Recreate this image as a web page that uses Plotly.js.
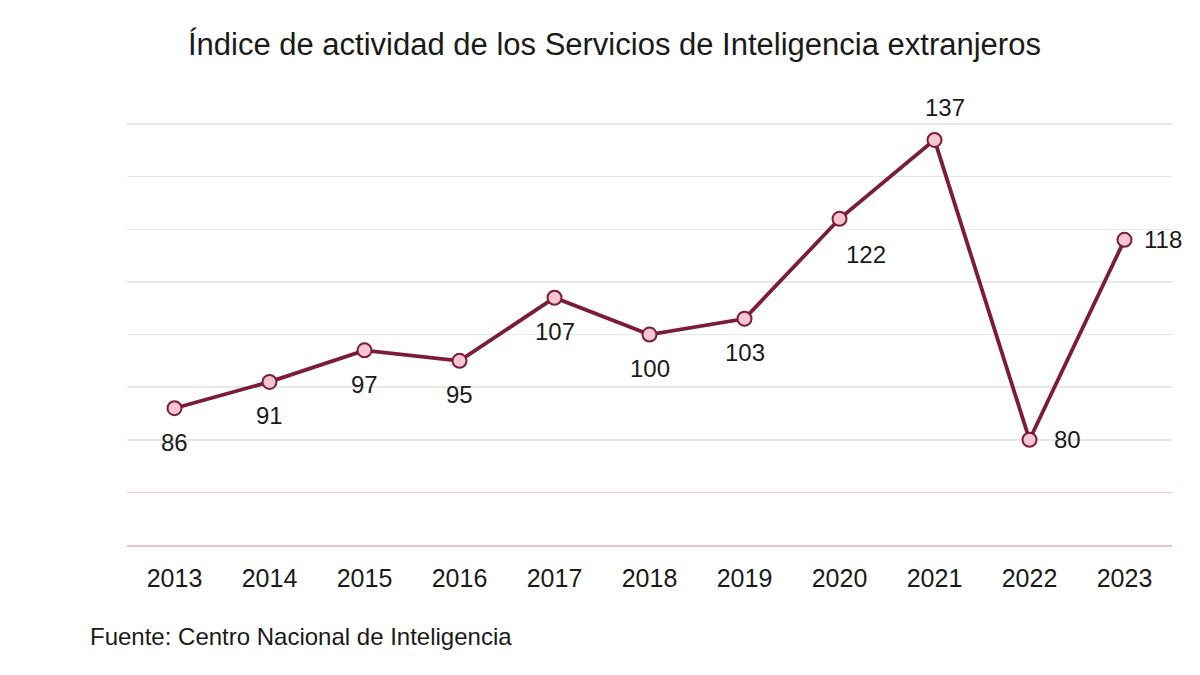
<!DOCTYPE html>
<html><head><meta charset="utf-8">
<script src="https://cdn.plot.ly/plotly-3.0.1.min.js"></script>
<style>html,body{margin:0;padding:0;background:#fff;}#chart{width:1200px;height:675px;}</style>
</head><body><div id="chart"></div>
<script>
const years = [2013, 2014, 2015, 2016, 2017, 2018, 2019, 2020, 2021, 2022, 2023];
const values = [86, 91, 97, 95, 107, 100, 103, 122, 137, 80, 118];
const labelSide = ['below','below','below','below','below','below','below','belowright','above','right','right'];
const yTicks = [60, 70, 80, 90, 100, 110, 120, 130, 140];

const shiftMap = {
  below: {xs: 0, ys: -34},
  belowright: {xs: 26, ys: -36},
  above: {xs: 10, ys: 32},
  right: {xs: 38, ys: 0}
};

const FONT = 'Liberation Sans, Arial, sans-serif';

const annotations = years.map((yr, i) => {
  const s = shiftMap[labelSide[i]];
  return {x: yr, y: values[i], xref: 'x', yref: 'y', text: String(values[i]), showarrow: false,
    xanchor: 'center', yanchor: 'middle', xshift: s.xs, yshift: s.ys,
    font: {family: FONT, size: 24, color: '#1a1a1a'}};
});
annotations.push({x: -0.037, y: -0.216, xref: 'paper', yref: 'paper', xanchor: 'left', yanchor: 'middle',
  text: 'Fuente: Centro Nacional de Inteligencia', showarrow: false,
  font: {family: FONT, size: 24, color: '#1a1a1a'}});

const trace = {
  x: years, y: values, type: 'scatter', mode: 'lines+markers',
  line: {color: '#7d1b3b', width: 3.8},
  marker: {size: 14, color: '#f7c6d0', line: {color: '#7d1b3b', width: 2}},
  cliponaxis: false, hoverinfo: 'skip'
};

const layout = {
  width: 1200, height: 675,
  margin: {l: 127, r: 28, t: 122, b: 130},
  paper_bgcolor: '#fff', plot_bgcolor: '#fff',
  showlegend: false,
  title: {text: 'Índice de actividad de los Servicios de Inteligencia extranjeros',
    x: 0.512, xanchor: 'center', y: 0.935, yanchor: 'middle',
    font: {family: FONT, size: 31, color: '#1a1a1a'}},
  xaxis: {range: [2012.5, 2023.5], tickmode: 'array', tickvals: years, ticktext: years.map(String),
    showgrid: false, zeroline: false, showline: true, linecolor: '#f0c0cc', linewidth: 2,
    ticks: '', ticklabelstandoff: 10,
    tickfont: {family: FONT, size: 25, color: '#1a1a1a'}},
  yaxis: {range: [60, 140.4], tickmode: 'array', tickvals: yTicks, showticklabels: false,
    showgrid: true, gridcolor: '#e8e8e8', gridwidth: 1.5, zeroline: false, showline: false, ticks: ''},
  shapes: [{type: 'line', xref: 'paper', yref: 'y', x0: 0, x1: 1, y0: 70, y1: 70,
    line: {color: '#f6d0d9', width: 1.5}, layer: 'above'}],
  annotations: annotations
};

Plotly.newPlot('chart', [trace], layout, {staticPlot: true, displayModeBar: false});
</script></body></html>
